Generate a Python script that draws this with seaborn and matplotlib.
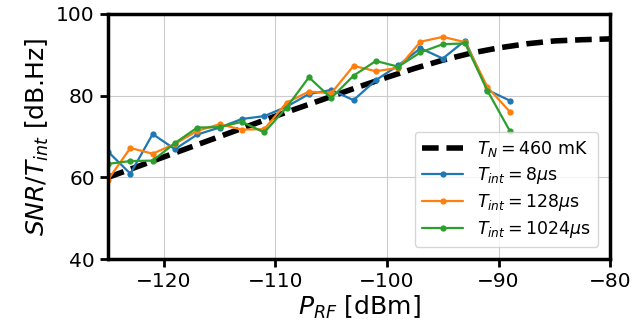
import numpy as np
import pandas as pd
import matplotlib
matplotlib.use("Agg")
import matplotlib.pyplot as plt
import seaborn as sns

# measured points, P_RF in dBm
p_rf = [-125, -123, -121, -119, -117, -115, -113, -111, -109, -107,
        -105, -103, -101, -99, -97, -95, -93, -91, -89]
snr_8us = [66.3, 60.9, 70.6, 66.9, 70.5, 72.2, 74.3, 75.0, 77.3, 80.4,
           81.4, 78.9, 83.8, 87.4, 91.6, 89.1, 93.5, 81.4, 78.8]
snr_128us = [59.4, 67.2, 65.8, 68.2, 71.4, 73.0, 71.7, 71.8, 78.3, 81.0,
             80.6, 87.3, 86.0, 86.8, 93.2, 94.4, 93.1, 82.1, 76.1]
snr_1024us = [63.3, 64.0, 64.1, 68.4, 72.2, 72.3, 73.6, 71.0, 77.1, 84.5,
              79.4, 84.9, 88.5, 87.1, 90.6, 92.6, 92.8, 81.2, 71.4]

# theory curve T_N = 460 mK
p_theory = [-125, -122.5, -120, -117.5, -115, -112.5, -110, -107.5, -105, -102.5,
            -100, -97.5, -95, -92.5, -90, -87.5, -85, -82.5, -80]
snr_theory = [60.0, 62.5, 65.0, 67.5, 70.0, 72.5, 75.0, 77.4, 79.8, 82.2,
              84.5, 86.7, 88.7, 90.4, 91.7, 92.7, 93.4, 93.7, 93.9]

sns.set_style("whitegrid", {"grid.color": "#cccccc"})
plt.rcParams['font.family'] = ['DejaVu Sans']
plt.rcParams['text.color'] = 'black'
plt.rcParams['axes.labelcolor'] = 'black'
plt.rcParams['xtick.color'] = 'black'
plt.rcParams['ytick.color'] = 'black'

fig, ax = plt.subplots(figsize=(6.43, 3.33), dpi=100)
fig.subplots_adjust(left=0.168, right=0.949, top=0.958, bottom=0.222)

sns.lineplot(x=p_theory, y=snr_theory, ax=ax, color='black', lw=4,
             linestyle=(0, (3.0, 1.4)), label=r'$T_N = 460$ mK')

series = [(snr_8us, r'$T_{int} = 8\mu$s', 'tab:blue'),
          (snr_128us, r'$T_{int} = 128\mu$s', 'tab:orange'),
          (snr_1024us, r'$T_{int} = 1024\mu$s', 'tab:green')]
for vals, lab, col in series:
    sns.lineplot(x=p_rf, y=vals, ax=ax, color=col, lw=1.6, marker='o',
                 markersize=4.5, markeredgewidth=0, label=lab)

ax.set_xlim(-125, -80)
ax.set_ylim(40, 100)
ax.set_xticks([-120, -110, -100, -90, -80])
ax.set_yticks([40, 60, 80, 100])
ax.tick_params(labelsize=14.5, length=6, width=2, color='black', direction='out')
ax.tick_params(axis='both', which='both', bottom=True, left=True)

for sp in ax.spines.values():
    sp.set_color('black')
    sp.set_linewidth(2.5)

ax.set_xlabel(r'$P_{RF}$ [dBm]', fontsize=18, labelpad=2)
ax.set_ylabel(r'$SNR/T_{int}$ [dB.Hz]', fontsize=18, labelpad=4)

ax.legend(loc='lower right', fontsize=12.5, handlelength=2.4, borderaxespad=0.7,
          labelspacing=0.35)

plt.savefig('out.png', dpi=100)
